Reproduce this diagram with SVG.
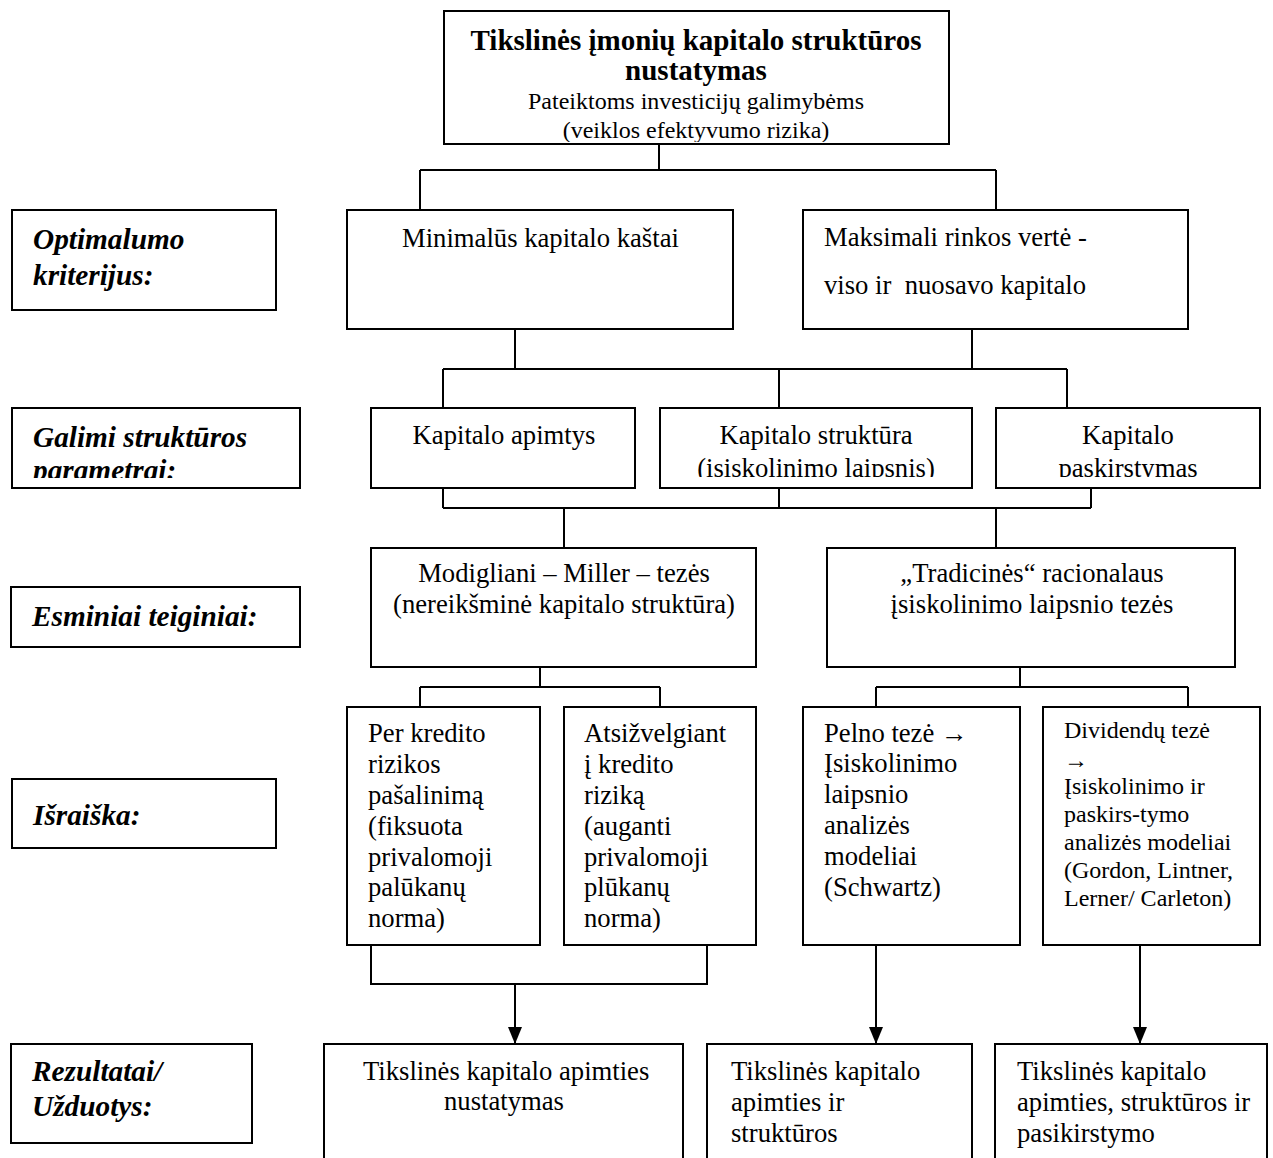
<svg xmlns="http://www.w3.org/2000/svg" width="1273" height="1158" viewBox="0 0 1273 1158">
<style>
.box{fill:#fff;stroke:#000;stroke-width:2}
.t{font-family:"Liberation Serif","Times New Roman",serif;font-size:26.67px;fill:#000}
.s{font-size:24px}
.title{font-family:"Liberation Serif","Times New Roman",serif;font-size:29px;font-weight:bold;fill:#000}
.lab{font-family:"Liberation Serif","Times New Roman",serif;font-size:29.3px;font-weight:bold;font-style:italic;fill:#000}
.c{fill:none;stroke:#000;stroke-width:2}
.m{text-anchor:middle}
</style>
<defs>
<marker id="arr" markerUnits="userSpaceOnUse" markerWidth="18" markerHeight="14" refX="17" refY="7" orient="auto" viewBox="0 0 18 14">
<path d="M0,0 L17,7 L0,14 Z" fill="#000"/>
</marker>
<clipPath id="clipTop"><rect x="444" y="11" width="505" height="131"/></clipPath>
<clipPath id="clipRow2"><rect x="0" y="400" width="1273" height="77"/></clipPath>
<clipPath id="clipGal"><rect x="0" y="400" width="1273" height="78"/></clipPath>
</defs>
<rect width="1273" height="1158" fill="#fff"/>

<g id="connectors">
<path class="c" d="M659 144 V170 M420 170 H996 M420 170 V210 M996 170 V210"/>
<path class="c" d="M515 329 V369 M972 329 V369 M443 369 H1067 M443 369 V408 M779 369 V408 M1067 369 V408"/>
<path class="c" d="M443 488 V508 M779 488 V508 M1091 488 V508 M443 508 H1091 M564 508 V548 M996 508 V548"/>
<path class="c" d="M540 667 V687 M420 687 H660 M420 687 V707 M660 687 V707"/>
<path class="c" d="M1020 667 V687 M876 687 H1188 M876 687 V707 M1188 687 V707"/>
<path class="c" d="M371 945 V984 H707 V945"/>
<path class="c" d="M515 984 V1044" marker-end="url(#arr)"/>
<path class="c" d="M876 945 V1044" marker-end="url(#arr)"/>
<path class="c" d="M1140 945 V1044" marker-end="url(#arr)"/>
</g>

<g id="node-top">
<rect class="box" x="444" y="11" width="505" height="133"/>
<g clip-path="url(#clipTop)">
<text class="title m" x="696" y="50">Tikslinės įmonių kapitalo struktūros</text>
<text class="title m" x="696" y="80">nustatymas</text>
<text class="t s m" x="696" y="109">Pateiktoms investicijų galimybėms</text>
<text class="t s m" x="696" y="138">(veiklos efektyvumo rizika)</text>
</g>
</g>

<g id="label-optimalumo">
<rect class="box" x="12" y="210" width="264" height="100"/>
<text class="lab" x="33" y="249">Optimalumo</text>
<text class="lab" x="33" y="285">kriterijus:</text>
</g>
<g id="node-minimalus">
<rect class="box" x="347" y="210" width="386" height="119"/>
<text class="t" x="402" y="247">Minimalūs kapitalo kaštai</text>
</g>
<g id="node-maksimali">
<rect class="box" x="803" y="210" width="385" height="119"/>
<text class="t" x="824" y="246">Maksimali rinkos vertė -</text>
<text class="t" x="824" y="294" xml:space="preserve">viso ir  nuosavo kapitalo</text>
</g>

<g id="label-galimi">
<rect class="box" x="12" y="408" width="288" height="80"/>
<g clip-path="url(#clipGal)">
<text class="lab" x="33" y="447">Galimi struktūros</text>
<text class="lab" x="33" y="480">parametrai:</text>
</g>
</g>
<g id="node-apimtys">
<rect class="box" x="371" y="408" width="264" height="80"/>
<text class="t m" x="504" y="444">Kapitalo apimtys</text>
</g>
<g id="node-struktura">
<rect class="box" x="660" y="408" width="312" height="80"/>
<g clip-path="url(#clipRow2)">
<text class="t m" x="816" y="444">Kapitalo struktūra</text>
<text class="t m" x="816" y="477">(įsiskolinimo laipsnis)</text>
</g>
</g>
<g id="node-paskirstymas">
<rect class="box" x="996" y="408" width="264" height="80"/>
<g clip-path="url(#clipRow2)">
<text class="t m" x="1128" y="444">Kapitalo</text>
<text class="t m" x="1128" y="477">paskirstymas</text>
</g>
</g>

<g id="label-esminiai">
<rect class="box" x="11" y="587" width="289" height="60"/>
<text class="lab" x="32" y="626">Esminiai teiginiai:</text>
</g>
<g id="node-modigliani">
<rect class="box" x="371" y="548" width="385" height="119"/>
<text class="t m" x="564" y="582">Modigliani – Miller – tezės</text>
<text class="t m" x="564" y="613">(nereikšminė kapitalo struktūra)</text>
</g>
<g id="node-tradicines">
<rect class="box" x="827" y="548" width="408" height="119"/>
<text class="t m" x="1032" y="582">„Tradicinės“ racionalaus</text>
<text class="t m" x="1032" y="613">įsiskolinimo laipsnio tezės</text>
</g>

<g id="label-israiska">
<rect class="box" x="12" y="779" width="264" height="69"/>
<text class="lab" x="33" y="825">Išraiška:</text>
</g>
<g id="node-per-kredito">
<rect class="box" x="347" y="707" width="193" height="238"/>
<text class="t" x="368" y="742">Per kredito</text>
<text class="t" x="368" y="773">rizikos</text>
<text class="t" x="368" y="804">pašalinimą</text>
<text class="t" x="368" y="835">(fiksuota</text>
<text class="t" x="368" y="866">privalomoji</text>
<text class="t" x="368" y="896">palūkanų</text>
<text class="t" x="368" y="927">norma)</text>
</g>
<g id="node-atsizvelgiant">
<rect class="box" x="564" y="707" width="192" height="238"/>
<text class="t" x="584" y="742">Atsižvelgiant</text>
<text class="t" x="584" y="773">į kredito</text>
<text class="t" x="584" y="804">riziką</text>
<text class="t" x="584" y="835">(auganti</text>
<text class="t" x="584" y="866">privalomoji</text>
<text class="t" x="584" y="896">plūkanų</text>
<text class="t" x="584" y="927">norma)</text>
</g>
<g id="node-pelno">
<rect class="box" x="803" y="707" width="217" height="238"/>
<text class="t" x="824" y="742">Pelno tezė →</text>
<text class="t" x="824" y="772">Įsiskolinimo</text>
<text class="t" x="824" y="803">laipsnio</text>
<text class="t" x="824" y="834">analizės</text>
<text class="t" x="824" y="865">modeliai</text>
<text class="t" x="824" y="896">(Schwartz)</text>
</g>
<g id="node-dividendu">
<rect class="box" x="1043" y="707" width="217" height="238"/>
<text class="t s" x="1064" y="738">Dividendų tezė</text>
<text class="t s" x="1064" y="768">→</text>
<text class="t s" x="1064" y="794">Įsiskolinimo ir</text>
<text class="t s" x="1064" y="822">paskirs-tymo</text>
<text class="t s" x="1064" y="850">analizės modeliai</text>
<text class="t s" x="1064" y="878">(Gordon, Lintner,</text>
<text class="t s" x="1064" y="906">Lerner/ Carleton)</text>
</g>

<g id="label-rezultatai">
<rect class="box" x="11" y="1044" width="241" height="99"/>
<text class="lab" x="32" y="1081">Rezultatai/</text>
<text class="lab" x="32" y="1116">Užduotys:</text>
</g>
<g id="node-result1">
<rect class="box" x="324" y="1044" width="359" height="130"/>
<text class="t" x="363" y="1080">Tikslinės kapitalo apimties</text>
<text class="t m" x="504" y="1110">nustatymas</text>
</g>
<g id="node-result2">
<rect class="box" x="707" y="1044" width="265" height="130"/>
<text class="t" x="731" y="1080">Tikslinės kapitalo</text>
<text class="t" x="731" y="1111">apimties ir</text>
<text class="t" x="731" y="1142">struktūros</text>
</g>
<g id="node-result3">
<rect class="box" x="995" y="1044" width="272" height="130"/>
<text class="t" x="1017" y="1080">Tikslinės kapitalo</text>
<text class="t" x="1017" y="1111">apimties, struktūros ir</text>
<text class="t" x="1017" y="1142">pasikirstymo</text>
</g>
</svg>
